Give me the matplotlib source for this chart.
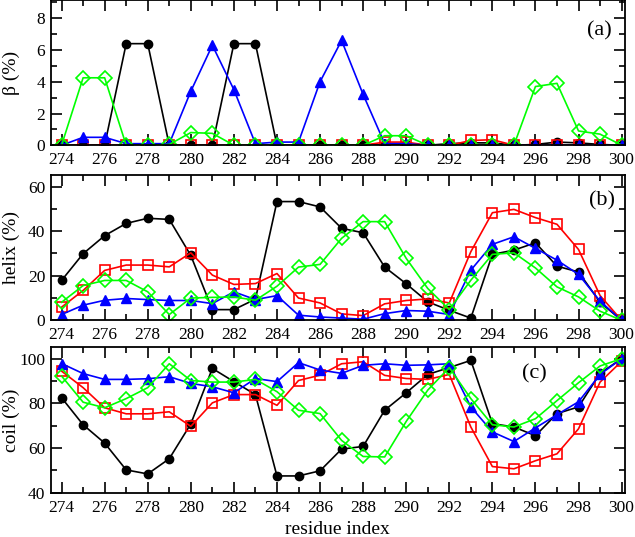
import matplotlib
matplotlib.use("Agg")
import matplotlib.pyplot as plt
from matplotlib.ticker import MultipleLocator

plt.rcParams['font.family'] = ['Liberation Serif', 'DejaVu Serif']

residues = list(range(274, 301))

# beta (%)
beta_black = [0, 0, 0, 6.4, 6.4, 0, 0, 0, 6.4, 6.4, 0, 0, 0, 0, 0, 0.05, 0.05, 0,
              0.1, 0.15, 0.15, 0, 0.05, 0.2, 0.15, 0.05, 0]
beta_red = [0, 0, 0, 0, 0, 0, 0, 0, 0, 0, 0, 0, 0, 0, 0, 0.2, 0.2, 0,
            0, 0.3, 0.35, 0, 0, 0, 0, 0, 0]
beta_blue = [0, 0.5, 0.5, 0.1, 0.1, 0.1, 3.4, 6.3, 3.5, 0.1, 0.2, 0.2, 4.0, 6.6, 3.2, 0.1, 0.1, 0,
             0, 0, 0, 0, 0, 0, 0, 0, 0]
beta_green = [0, 4.25, 4.25, 0, 0, 0.05, 0.8, 0.75, 0, 0, 0, 0, 0, 0, 0, 0.6, 0.6, 0,
              0, 0, 0, 0, 3.7, 3.9, 0.9, 0.7, 0]

# helix (%)
helix_black = [17.9, 29.9, 38.0, 43.5, 45.8, 45.3, 29.1, 4.8, 4.8, 9.5, 53.3, 53.3, 50.9, 41.3,
               39.3, 23.9, 16.4, 8.3, 4.5, 1.0, 29.6, 31.5, 34.8, 24.3, 21.7, 8.1, 0]
helix_red = [5.9, 13.4, 22.4, 24.8, 24.8, 24.0, 30.3, 20.3, 16.1, 16.5, 21.0, 10.0, 7.8, 2.9,
             2.1, 7.4, 8.9, 9.6, 7.8, 30.8, 48.3, 49.8, 46.1, 43.1, 31.8, 11.1, 0]
helix_blue = [2.6, 6.8, 9.0, 9.8, 9.3, 8.9, 8.9, 7.5, 12.8, 9.3, 11.1, 2.3, 1.5, 1.0,
              0.5, 3.0, 4.4, 4.1, 2.6, 22.5, 34.1, 37.5, 32.3, 27.0, 20.6, 8.6, 0]
helix_green = [8.1, 15.6, 17.9, 17.9, 12.8, 2.6, 10.0, 10.3, 10.5, 9.0, 15.3, 23.9, 25.1, 36.8,
               44.3, 44.3, 27.8, 14.3, 4.8, 18.0, 29.6, 30.3, 23.5, 15.0, 10.5, 4.1, 0]

# coil (%)
coil_black = [82.5, 70.4, 62.2, 50.2, 48.4, 55.2, 70.8, 95.6, 89.7, 83.9, 47.5, 47.5, 49.8, 59.5,
              60.7, 76.9, 84.7, 92.9, 96.0, 99.2, 70.9, 69.4, 65.5, 75.4, 78.4, 93.4, 100]
coil_red = [94.4, 87.0, 78.0, 75.3, 75.3, 76.2, 69.7, 80.2, 83.9, 83.9, 79.1, 90.2, 92.6, 97.7,
            98.6, 92.5, 91.1, 90.7, 92.9, 69.4, 51.7, 50.7, 54.3, 57.4, 68.6, 89.5, 98.8]
coil_blue = [97.8, 93.3, 90.7, 90.7, 91.0, 91.9, 88.9, 87.4, 84.7, 91.1, 89.7, 98.2, 94.9, 93.4,
             97.0, 97.7, 97.0, 97.2, 97.7, 78.4, 67.2, 62.9, 69.0, 74.9, 80.7, 92.9, 100]
coil_green = [92.2, 80.5, 78.0, 82.1, 87.0, 97.7, 90.2, 89.5, 89.5, 90.7, 85.2, 76.9, 75.4, 63.4,
              56.2, 56.0, 71.9, 85.9, 96.0, 82.1, 70.4, 69.4, 73.1, 81.2, 89.2, 96.7, 100]

panels = [
    ('β (%)', '(a)', (0, 9.15), 2, 1, [beta_black, beta_red, beta_blue, beta_green], (0.956, 0.79)),
    ('helix (%)', '(b)', (0, 65.2), 20, 10, [helix_black, helix_red, helix_blue, helix_green], (0.96, 0.82)),
    ('coil (%)', '(c)', (40, 105), 20, 10, [coil_black, coil_red, coil_blue, coil_green], (0.843, 0.82)),
]

styles = [
    dict(color='black', marker='o', markersize=6, markerfacecolor='black'),
    dict(color='red', marker='s', markersize=6.5, markerfacecolor='none', markeredgewidth=1.2),
    dict(color='blue', marker='^', markersize=6.5, markerfacecolor='blue'),
    dict(color='#00ff00', marker='D', markersize=7, markerfacecolor='none', markeredgewidth=1.2),
]

fig = plt.figure(figsize=(6.35, 5.37), dpi=100)
# axes tops in figure fraction, each panel ~145 px tall
tops = [1.0, 0.674, 0.353]
height = 0.2705
left, width = 0.080, 0.904

for (ylabel, tag, ylim, major, minor, series, tagpos), top in zip(panels, tops):
    ax = fig.add_axes([left, top - height, width, height])
    for vals, st in zip(series, styles):
        ax.plot(residues, vals, linewidth=1.2, **st)
    ax.set_xlim(273.5, 300.15)
    ax.set_ylim(*ylim)
    ax.xaxis.set_major_locator(MultipleLocator(2))
    ax.xaxis.set_minor_locator(MultipleLocator(1))
    ax.yaxis.set_major_locator(MultipleLocator(major))
    ax.yaxis.set_minor_locator(MultipleLocator(minor))
    ax.tick_params(which='both', direction='in', top=True, right=True, width=1.2, labelsize=12.5)
    ax.tick_params(which='major', length=8)
    ax.tick_params(which='minor', length=4.5)
    ax.tick_params(axis='x', pad=5)
    ax.tick_params(axis='y', pad=4)
    for sp in ax.spines.values():
        sp.set_linewidth(1.3)
    ax.set_ylabel(ylabel, fontsize=14)
    ax.yaxis.set_label_coords(-0.053, 0.5)
    ax.text(tagpos[0], tagpos[1], tag, transform=ax.transAxes, fontsize=16, ha='center', va='center')
    if tag == '(c)':
        ax.set_xlabel('residue index', fontsize=14, labelpad=4)

plt.savefig('out.png', dpi=100)
